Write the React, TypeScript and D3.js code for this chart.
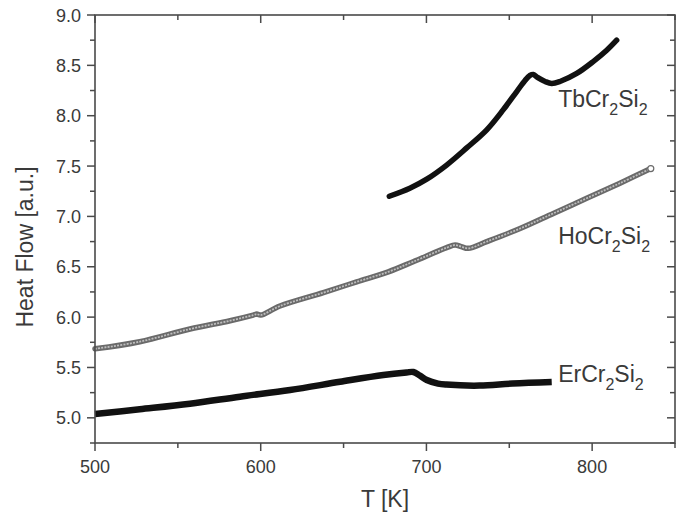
import React from "react";
import * as d3 from "d3";

const W = 689;
const H = 525;

const xDomain = [500, 850];
const yDomain = [4.75, 9.0];
const xMajorTicks = [500, 600, 700, 800];
const xMinorTicks = [550, 650, 750, 850];
const yMajorTicks = [5.0, 5.5, 6.0, 6.5, 7.0, 7.5, 8.0, 8.5, 9.0];
const yMinorTicks = [4.75, 5.25, 5.75, 6.25, 6.75, 7.25, 7.75, 8.25, 8.75];

const tbT = [677.6, 690, 700.2, 712.2, 724.3, 736.4, 746.4, 754.5, 759.5, 762.5, 764.5, 767, 771.6, 775.6, 780.6, 790.7, 800.8, 808.8, 814.8];
const tbY = [7.2, 7.28, 7.37, 7.51, 7.68, 7.86, 8.06, 8.24, 8.35, 8.40, 8.41, 8.38, 8.34, 8.32, 8.34, 8.42, 8.54, 8.65, 8.75];

const hoT = [500, 527, 557.3, 581.5, 595.5, 597.6, 600, 611.6, 637.8, 657.9, 677, 692, 712.2, 717.3, 721, 725.3, 736.4, 756.5, 776.6, 796.7, 816.8, 835.4];
const hoY = [5.685, 5.756, 5.882, 5.964, 6.02, 6.03, 6.02, 6.11, 6.243, 6.35, 6.45, 6.55, 6.69, 6.716, 6.7, 6.683, 6.75, 6.88, 7.03, 7.18, 7.33, 7.475];

const erT = [500, 527, 557.3, 587.5, 617.7, 647.9, 674, 688, 692.1, 696, 700.2, 707, 712, 732, 752, 775.6];
const erY = [5.038, 5.085, 5.14, 5.21, 5.276, 5.358, 5.425, 5.45, 5.455, 5.42, 5.375, 5.34, 5.33, 5.32, 5.34, 5.355];

const labelNames = ["Tb", "Ho", "Er"];
const labelT = [779.5, 779.5, 779.5];
const labelY = [8.086, 6.726, 5.356];

const margin = { left: 95, right: 14, top: 15, bottom: 82 };

export default function App() {
  const x = d3.scaleLinear().domain(xDomain).range([margin.left, W - margin.right]);
  const y = d3.scaleLinear().domain(yDomain).range([H - margin.bottom, margin.top]);
  const x0 = margin.left, x1 = W - margin.right, y0 = H - margin.bottom, y1 = margin.top;

  const line = d3
    .line<[number, number]>()
    .x((d) => x(d[0]))
    .y((d) => y(d[1]))
    .curve(d3.curveCatmullRom.alpha(0.5));

  const tb = line(tbT.map((t, i) => [t, tbY[i]]) as [number, number][]) || "";
  const ho = line(hoT.map((t, i) => [t, hoY[i]]) as [number, number][]) || "";
  const er = line(erT.map((t, i) => [t, erY[i]]) as [number, number][]) || "";

  const axisColor = "#4a4a4a";
  const textColor = "#3a3a3a";
  const font = "'Liberation Sans', Arial, sans-serif";
  const maj = 8;
  const min = 5;

  return (
    <svg width={W} height={H} style={{ position: "absolute", left: 0, top: 0, background: "#fff" }} fontFamily={font}>
      <rect x={0} y={0} width={W} height={H} fill="#fff" />
      <path d={ho} fill="none" stroke="#6a6a6a" strokeWidth={5.5} strokeLinecap="round" />
      <path d={ho} fill="none" stroke="#bdbdbd" strokeWidth={1.8} strokeDasharray="2 1.2" />
      <circle cx={x(hoT[hoT.length - 1])} cy={y(hoY[hoY.length - 1])} r={3} fill="#fff" stroke="#6a6a6a" strokeWidth={1.2} />
      <path d={tb} fill="none" stroke="#111" strokeWidth={5.5} strokeLinecap="round" strokeLinejoin="round" />
      <path d={er} fill="none" stroke="#111" strokeWidth={6.5} strokeLinejoin="round" />

      <rect x={x0} y={y1} width={x1 - x0} height={y0 - y1} fill="none" stroke={axisColor} strokeWidth={1.6} />

      {xMajorTicks.map((t) => (
        <g key={"xm" + t}>
          <line x1={x(t)} x2={x(t)} y1={y0} y2={y0 + maj} stroke={axisColor} strokeWidth={1.5} />
          <line x1={x(t)} x2={x(t)} y1={y1} y2={y1 + maj} stroke={axisColor} strokeWidth={1.5} />
          <text x={x(t)} y={y0 + 30} textAnchor="middle" fontSize={18} fill={textColor}>
            {t}
          </text>
        </g>
      ))}
      {xMinorTicks.map((t) => (
        <g key={"xn" + t}>
          <line x1={x(t)} x2={x(t)} y1={y0} y2={y0 + min} stroke={axisColor} strokeWidth={1.5} />
          <line x1={x(t)} x2={x(t)} y1={y1} y2={y1 + min} stroke={axisColor} strokeWidth={1.5} />
        </g>
      ))}
      {yMajorTicks.map((t) => (
        <g key={"ym" + t}>
          <line x1={x0 - maj} x2={x0} y1={y(t)} y2={y(t)} stroke={axisColor} strokeWidth={1.5} />
          <line x1={x1 - maj} x2={x1} y1={y(t)} y2={y(t)} stroke={axisColor} strokeWidth={1.5} />
          <text x={x0 - 14} y={y(t) + 6.5} textAnchor="end" fontSize={18} fill={textColor}>
            {t.toFixed(1)}
          </text>
        </g>
      ))}
      {yMinorTicks.map((t) => (
        <g key={"yn" + t}>
          <line x1={x0 - min} x2={x0} y1={y(t)} y2={y(t)} stroke={axisColor} strokeWidth={1.5} />
          <line x1={x1 - min} x2={x1} y1={y(t)} y2={y(t)} stroke={axisColor} strokeWidth={1.5} />
        </g>
      ))}

      <text x={(x0 + x1) / 2} y={507} textAnchor="middle" fontSize={23} fill={textColor}>
        T [K]
      </text>
      <text transform={`translate(33, ${247}) rotate(-90)`} textAnchor="middle" fontSize={23} fill={textColor}>
        Heat Flow [a.u.]
      </text>

      {labelNames.map((n, i) => (
        <text key={n} x={x(labelT[i])} y={y(labelY[i])} fontSize={23} fill={textColor}>
          {n}Cr
          <tspan fontSize={16} dy={8}>2</tspan>
          <tspan dy={-8}>Si</tspan>
          <tspan fontSize={16} dy={8}>2</tspan>
        </text>
      ))}
    </svg>
  );
}
